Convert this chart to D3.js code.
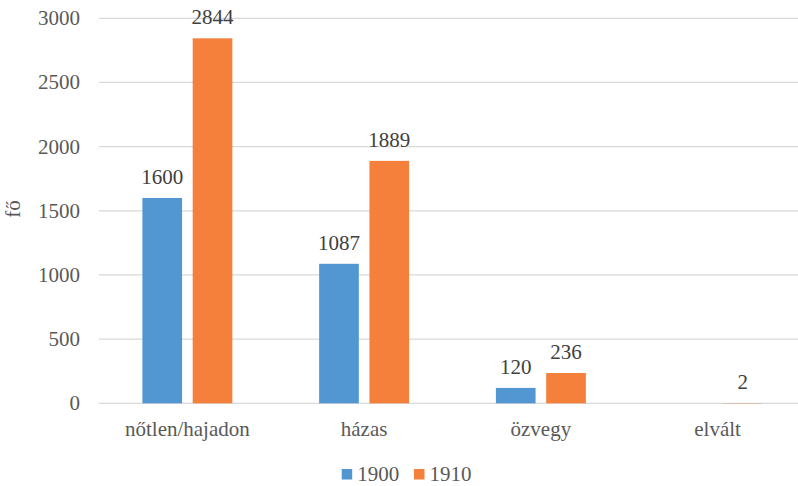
<!DOCTYPE html>
<html>
<head>
<meta charset="utf-8">
<script src="https://cdn.jsdelivr.net/npm/d3@7"></script>
<style>
	body { margin: 0; background: #fff; }
	.grid line { stroke: #d9d9d9; stroke-width: 1.3; }
</style>
</head>
<body>
<script>
var categories = ['nőtlen/hajadon', 'házas', 'özvegy', 'elvált'];
var series = ['1900', '1910'];
var values1900 = [1600, 1087, 120, null];
var values1910 = [2844, 1889, 236, 2];
var yTicks = [0, 500, 1000, 1500, 2000, 2500, 3000];
var colors = ['#5296d2', '#f4803b'];

var width = 798, height = 486;
var plot = {left: 99, right: 806, top: 18.3, bottom: 403.3};

var svg = d3.select('body').append('svg')
	.attr('width', width)
	.attr('height', height)
	.style('font-family', "'Liberation Serif'");

// shared text styling
function label(sel, fill) {
	return sel.attr('font-family', 'Liberation Serif')
		.style('font-family', "'Liberation Serif'")
		.style('font-size', '21px')
		.style('fill', fill || '#595959');
}

var y = d3.scaleLinear()
	.domain([0, 3000])
	.range([plot.bottom, plot.top]);

var x0 = d3.scaleBand()
	.domain(categories)
	.range([plot.left, plot.right])
	.paddingInner(0.491)
	.paddingOuter(0.2455);

var x1 = d3.scaleBand()
	.domain(series)
	.range([0, x0.bandwidth()])
	.paddingInner(0.211);

// gridlines
svg.append('g').attr('class', 'grid')
	.selectAll('line').data(yTicks).enter().append('line')
	.attr('x1', plot.left).attr('x2', plot.right)
	.attr('y1', function(d) { return y(d); })
	.attr('y2', function(d) { return y(d); });

// y tick labels
svg.append('g').selectAll('text').data(yTicks).enter().append('text')
	.attr('x', 80)
	.attr('y', function(d) { return y(d); })
	.attr('dy', '0.33em')
	.attr('text-anchor', 'end')
	.text(function(d) { return d; })
	.call(label);

// axis title
svg.append('text')
	.attr('transform', 'translate(20,209) rotate(-90)')
	.attr('text-anchor', 'middle')
	.text('fő')
	.call(label);

// category labels
svg.append('g').selectAll('text').data(categories).enter().append('text')
	.attr('x', function(d) { return x0(d) + x0.bandwidth() / 2; })
	.attr('y', 436)
	.attr('text-anchor', 'middle')
	.text(function(d) { return d; })
	.call(label);

var rows = [];
categories.forEach(function(c, i) {
	rows.push({cat: c, s: series[0], v: values1900[i], color: colors[0]});
	rows.push({cat: c, s: series[1], v: values1910[i], color: colors[1]});
});
rows = rows.filter(function(d) { return d.v != null; });

svg.append('g').selectAll('rect').data(rows).enter().append('rect')
	.attr('x', function(d) { return x0(d.cat) + x1(d.s); })
	.attr('width', x1.bandwidth())
	.attr('y', function(d) { return y(d.v); })
	.attr('height', function(d) { return y(0) - y(d.v); })
	.attr('fill', function(d) { return d.color; });

svg.append('g').selectAll('text').data(rows).enter().append('text')
	.attr('x', function(d) { return x0(d.cat) + x1(d.s) + x1.bandwidth() / 2; })
	.attr('y', function(d) { return y(d.v) - 14; })
	.attr('text-anchor', 'middle')
	.text(function(d) { return d.v; })
	.call(label, '#404040');

// legend
var legendX = [341.7, 414];
var legend = svg.append('g').selectAll('g').data(series).enter().append('g')
	.attr('transform', function(d, i) { return 'translate(' + legendX[i] + ',0)'; });
legend.append('rect')
	.attr('y', 469).attr('width', 10.5).attr('height', 10.5)
	.attr('fill', function(d, i) { return colors[i]; });
legend.append('text')
	.attr('x', 15.5).attr('y', 481)
	.text(function(d) { return d; })
	.call(label);
</script>
</body>
</html>
